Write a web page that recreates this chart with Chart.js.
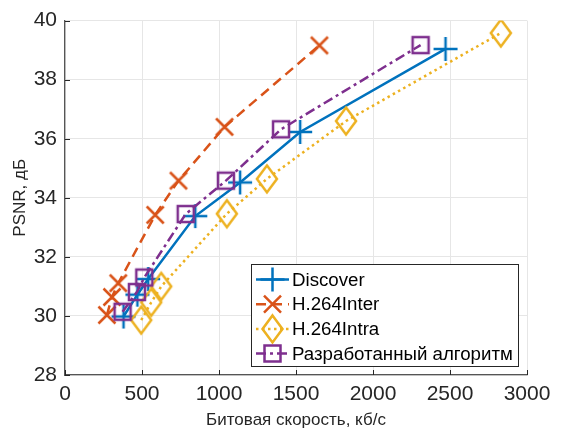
<!DOCTYPE html>
<html>
<head>
<meta charset="utf-8">
<script src="https://cdn.jsdelivr.net/npm/chart.js@4/dist/chart.umd.min.js"></script>
<style>
html, body { margin: 0; padding: 0; background: #fff; }
#wrap { width: 561px; height: 438px; }
</style>
</head>
<body>
<div id="wrap"><canvas id="rd"></canvas></div>
<script>
// rate–distortion points, kbit/s vs dB
const bitrateDiscover = [380, 470, 540, 846, 1137, 1527, 2471];
const psnrDiscover    = [29.98, 30.72, 31.25, 33.38, 34.52, 36.23, 39.04];
const bitrateInter    = [272, 305, 346, 586, 737, 1036, 1652];
const psnrInter       = [30.03, 30.64, 31.11, 33.42, 34.58, 36.40, 39.16];
const bitrateIntra    = [495, 560, 625, 1051, 1311, 1825, 2830];
const psnrIntra       = [29.86, 30.46, 31.00, 33.46, 34.64, 36.60, 39.58];
const bitrateOurs     = [374, 467, 515, 784, 1045, 1403, 2309];
const psnrOurs        = [30.14, 30.81, 31.30, 33.45, 34.58, 36.32, 39.17];

const xTicks = [0, 500, 1000, 1500, 2000, 2500, 3000];
const yTicks = [28, 30, 32, 34, 36, 38, 40];

const FONT = "'Liberation Sans', Arial, Helvetica, sans-serif";
const INK = '#262626';

function drawMarker(ctx, kind, x, y, color) {
    ctx.save();
    ctx.strokeStyle = color; ctx.lineWidth = 2.5; ctx.setLineDash([]);
    ctx.beginPath();
    if (kind === 'plus') {
        ctx.moveTo(x - 12, y); ctx.lineTo(x + 12, y);
        ctx.moveTo(x, y - 12); ctx.lineTo(x, y + 12);
    } else if (kind === 'x') {
        const r = 8.5;
        ctx.moveTo(x - r, y - r); ctx.lineTo(x + r, y + r);
        ctx.moveTo(x - r, y + r); ctx.lineTo(x + r, y - r);
    } else if (kind === 'diamond') {
        ctx.moveTo(x, y - 13.5); ctx.lineTo(x + 10, y);
        ctx.lineTo(x, y + 13.5); ctx.lineTo(x - 10, y); ctx.closePath();
    } else if (kind === 'square') {
        ctx.rect(x - 8, y - 8, 16, 16);
    }
    ctx.stroke();
    ctx.restore();
}
function markerCanvas(kind, color) {
    const c = document.createElement('canvas');
    c.width = 32; c.height = 32;
    drawMarker(c.getContext('2d'), kind, 16, 16, color);
    return c;
}
const pts = (xs, ys) => xs.map((x, i) => ({ x, y: ys[i] }));

const series = [
    { label: 'Discover', xs: bitrateDiscover, ys: psnrDiscover, color: '#0072BD', dash: [], marker: 'plus' },
    { label: 'H.264Inter', xs: bitrateInter, ys: psnrInter, color: '#D95319', dash: [10, 6], marker: 'x' },
    { label: 'H.264Intra', xs: bitrateIntra, ys: psnrIntra, color: '#EDB120', dash: [2.5, 3.5], marker: 'diamond' },
    { label: 'Разработанный алгоритм', xs: bitrateOurs, ys: psnrOurs, color: '#7E2F8E', dash: [10, 4, 3, 4], marker: 'square' }
];

// first dataset is painted last, so reverse to keep later series on top
const datasets = series.slice().reverse().map(s => ({
    label: s.label,
    data: pts(s.xs, s.ys),
    borderColor: s.color,
    borderWidth: 2.5,
    borderDash: s.dash,
    fill: false,
    tension: 0,
    pointStyle: markerCanvas(s.marker, s.color),
    pointRadius: 5,
    pointHoverRadius: 5
}));

// short inward ticks on the left and bottom axes
const innerTicks = {
    id: 'innerTicks',
    afterDatasetsDraw(chart) {
        const { ctx, chartArea: a, scales: { x, y } } = chart;
        ctx.save();
        ctx.strokeStyle = INK; ctx.lineWidth = 1;
        ctx.beginPath();
        xTicks.forEach(v => { const p = Math.round(x.getPixelForValue(v)) + 0.5; ctx.moveTo(p, a.bottom); ctx.lineTo(p, a.bottom - 5); });
        yTicks.forEach(v => { const p = Math.round(y.getPixelForValue(v)) + 0.5; ctx.moveTo(a.left, p); ctx.lineTo(a.left + 5, p); });
        ctx.stroke();
        ctx.restore();
    }
};

// boxed legend in the lower right, line sample with marker
const boxLegend = {
    id: 'boxLegend',
    afterDraw(chart) {
        const ctx = chart.ctx;
        const bx = 251, by = 264, bw = 267, bh = 102;
        ctx.save();
        ctx.fillStyle = '#fff';
        ctx.fillRect(bx, by, bw, bh);
        ctx.strokeStyle = INK; ctx.lineWidth = 1;
        ctx.strokeRect(bx + 0.5, by + 0.5, bw, bh);
        ctx.font = '18.7px ' + FONT;
        ctx.textBaseline = 'middle';
        series.forEach((s, i) => {
            const cy = 279.5 + i * 24.7;
            ctx.strokeStyle = s.color; ctx.lineWidth = 2.5;
            ctx.setLineDash(s.dash);
            ctx.beginPath(); ctx.moveTo(256, cy); ctx.lineTo(289, cy); ctx.stroke();
            drawMarker(ctx, s.marker, 272.5, cy, s.color);
            ctx.fillStyle = '#000';
            ctx.fillText(s.label, 292, cy + 1);
        });
        ctx.restore();
    }
};

new Chart(document.getElementById('rd'), {
    type: 'line',
    data: { datasets },
    options: {
        responsive: true,
        maintainAspectRatio: false,
        animation: false,
        layout: { padding: { top: 19, right: 34, left: 0, bottom: 0 } },
        plugins: { legend: { display: false }, tooltip: { enabled: false } },
        scales: {
            x: {
                type: 'linear', min: 0, max: 3000,
                afterFit: s => { s.height = 63; },
                afterBuildTicks: s => { s.ticks = xTicks.map(v => ({ value: v })); },
                ticks: { color: INK, font: { family: FONT, size: 21 }, padding: 7, maxRotation: 0, callback: v => String(v) },
                grid: { color: '#e6e6e6', drawTicks: false },
                border: { color: '#555', width: 1.3 },
                title: { display: true, text: 'Битовая скорость, кб/с', color: INK, font: { family: FONT, size: 17 }, padding: { top: 0, bottom: 7 } }
            },
            y: {
                type: 'linear', min: 28, max: 40,
                afterFit: s => { s.width = 65; },
                afterBuildTicks: s => { s.ticks = yTicks.map(v => ({ value: v })); },
                ticks: { color: INK, font: { family: FONT, size: 21 }, padding: 8, callback: v => String(v) },
                grid: { color: '#e6e6e6', drawTicks: false },
                border: { color: '#555', width: 1.3 },
                title: { display: true, text: 'PSNR, дБ', color: INK, font: { family: FONT, size: 17 }, padding: { top: 10, bottom: 0 } }
            }
        }
    },
    plugins: [innerTicks, boxLegend]
});
</script>
</body>
</html>
